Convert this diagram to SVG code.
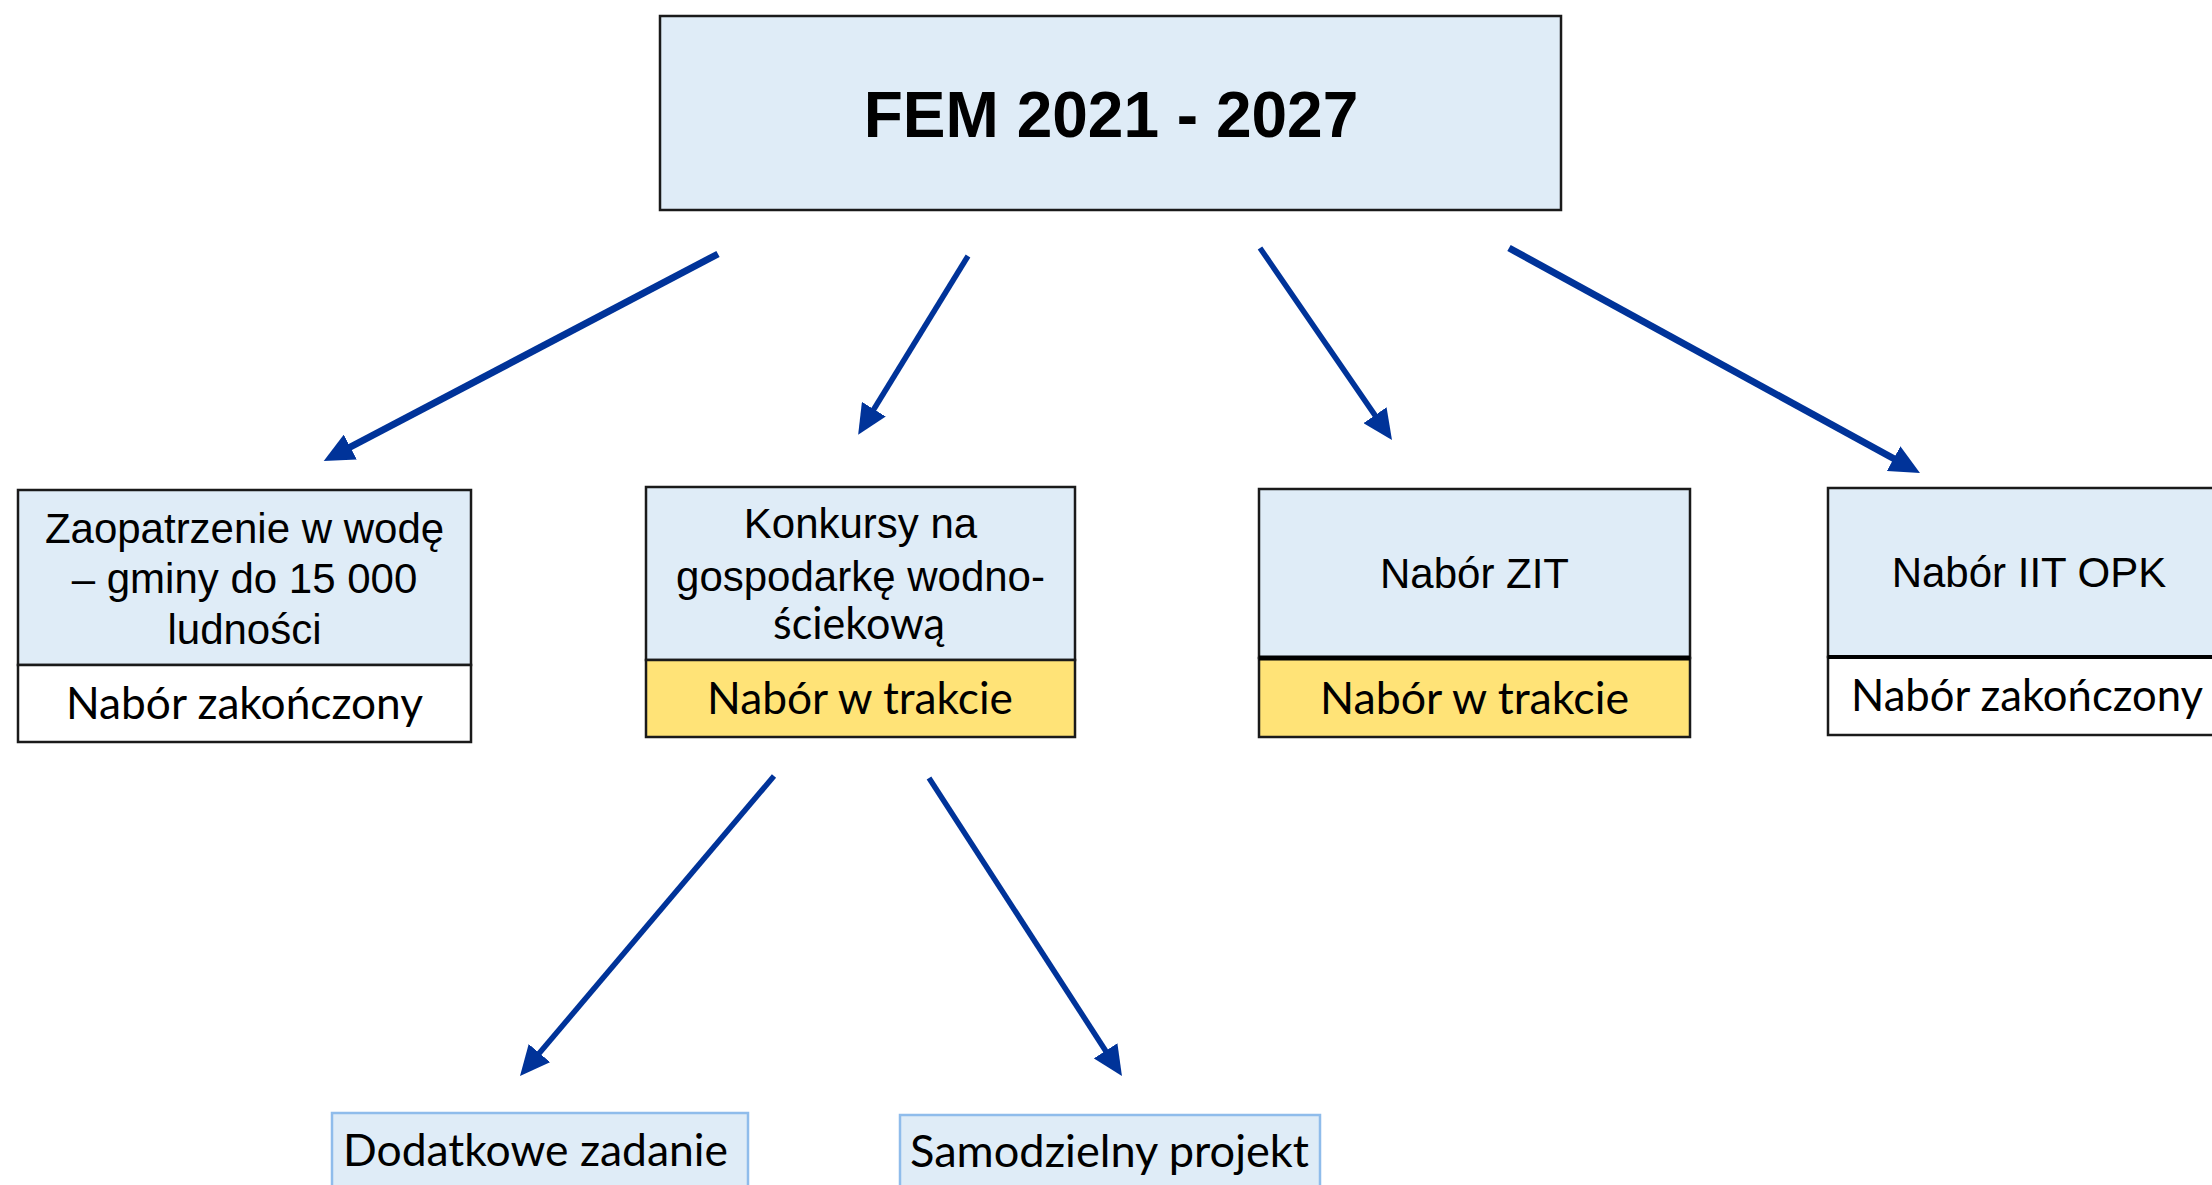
<svg xmlns="http://www.w3.org/2000/svg" width="2212" height="1185" viewBox="0 0 2212 1185">
<style>
.ar{font-family:"Liberation Sans",Arial,sans-serif;font-size:42px;fill:#000;text-anchor:middle}
.cal{font-family:Lato,"Open Sans",sans-serif;font-size:44px;fill:#000;text-anchor:middle}
.blue{fill:#DFECF7;stroke:#1a1a1a;stroke-width:2.5}
.white{fill:#fff;stroke:#1a1a1a;stroke-width:2.5}
.yel{fill:#FFE377;stroke:#1a1a1a;stroke-width:2.5}
.sub{fill:#DFECF7;stroke:#8FBCEB;stroke-width:2.5}
.conn{stroke:#003399;fill:none;marker-end:url(#ah)}
</style>
<defs>
<marker id="ah" markerUnits="userSpaceOnUse" markerWidth="30" markerHeight="28" refX="15" refY="14" orient="auto">
<path d="M0,0 L30,14 L0,28 z" fill="#003399"/>
</marker>
</defs>
<rect width="2212" height="1185" fill="#fff"/>
<g id="connectors">
<line class="conn" x1="718" y1="254" x2="337" y2="454" stroke-width="7"/>
<line class="conn" x1="968" y1="256" x2="866" y2="422" stroke-width="5.5"/>
<line class="conn" x1="1260" y1="248" x2="1383.5" y2="427.6" stroke-width="5.5"/>
<line class="conn" x1="1509" y1="248" x2="1906.8" y2="465.8" stroke-width="7"/>
<line class="conn" x1="774" y1="776" x2="529.7" y2="1064.5" stroke-width="5.5"/>
<line class="conn" x1="929" y1="778" x2="1113.8" y2="1063.4" stroke-width="5.5"/>
</g>
<g id="fem">
<rect class="blue" x="660" y="16" width="901" height="194"/>
<text x="1111" y="137" style="font-family:'Liberation Sans',Arial,sans-serif;font-size:64px;font-weight:bold;text-anchor:middle">FEM 2021 - 2027</text>
</g>
<g id="zaopatrzenie">
<rect class="blue" x="18" y="490" width="453" height="175"/>
<rect class="white" x="18" y="665" width="453" height="77"/>
<text class="ar" x="244.5" y="543">Zaopatrzenie w wodę</text>
<text class="ar" x="244.5" y="593">– gminy do 15 000</text>
<text class="ar" x="244.5" y="644">ludności</text>
<text class="cal" x="244.5" y="719" textLength="357" lengthAdjust="spacingAndGlyphs">Nabór zakończony</text>
</g>
<g id="konkursy">
<rect class="blue" x="646" y="487" width="429" height="173"/>
<rect class="yel" x="646" y="660" width="429" height="77" stroke-width="3"/>
<text class="ar" x="860.5" y="538">Konkursy na</text>
<text class="ar" x="860.5" y="591">gospodarkę wodno-</text>
<text class="cal" x="859" y="639" textLength="172" lengthAdjust="spacingAndGlyphs">ściekową</text>
<text class="cal" x="860" y="714" textLength="306" lengthAdjust="spacingAndGlyphs">Nabór w trakcie</text>
</g>
<g id="zit">
<rect class="blue" x="1259" y="489" width="431" height="169"/>
<rect class="yel" x="1259" y="658" width="431" height="79"/>
<line x1="1259" y1="658" x2="1690" y2="658" stroke="#000" stroke-width="5"/>
<text class="ar" x="1474.5" y="588">Nabór ZIT</text>
<text class="cal" x="1474.5" y="714" textLength="309" lengthAdjust="spacingAndGlyphs">Nabór w trakcie</text>
</g>
<g id="iit">
<rect class="blue" x="1828" y="488" width="410" height="169"/>
<rect class="white" x="1828" y="657" width="410" height="78"/>
<line x1="1828" y1="657" x2="2212" y2="657" stroke="#000" stroke-width="4"/>
<text class="ar" x="2029" y="587">Nabór IIT OPK</text>
<text class="cal" x="2027" y="711" textLength="352" lengthAdjust="spacingAndGlyphs">Nabór zakończony</text>
</g>
<g id="dodatkowe">
<rect class="sub" x="332" y="1113" width="416" height="100"/>
<text class="cal" x="535.5" y="1166" textLength="385" lengthAdjust="spacingAndGlyphs">Dodatkowe zadanie</text>
</g>
<g id="samodzielny">
<rect class="sub" x="900" y="1115" width="420" height="100"/>
<text class="cal" x="1109.5" y="1167" textLength="399" lengthAdjust="spacingAndGlyphs">Samodzielny projekt</text>
</g>
</svg>
